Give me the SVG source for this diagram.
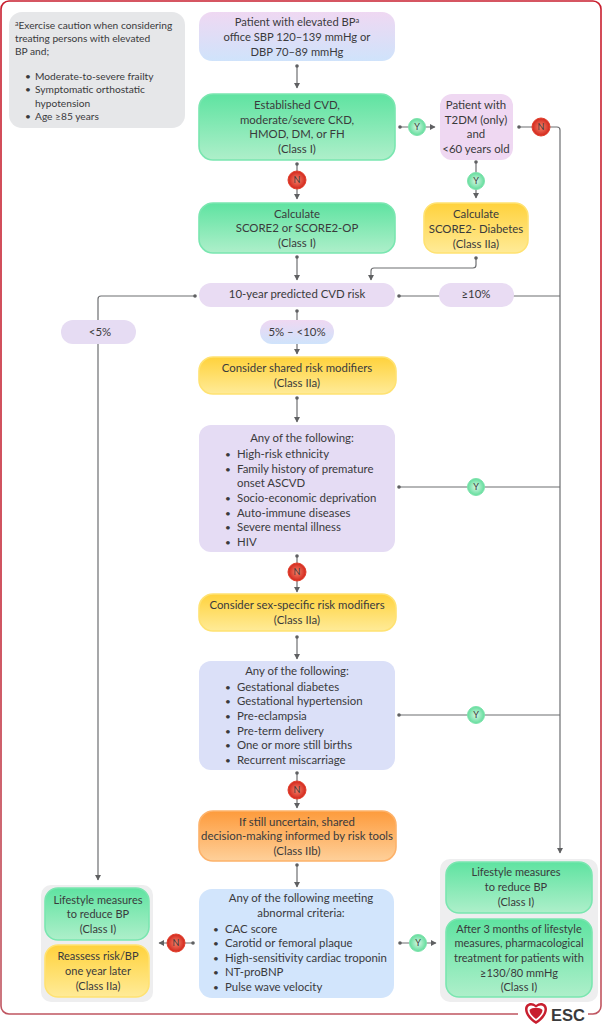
<svg xmlns="http://www.w3.org/2000/svg" width="602" height="1024" viewBox="0 0 602 1024">
<style>
text{font-family:"Lato","Open Sans","Liberation Sans",sans-serif;font-size:11.4px;fill:#3a3a3c;text-anchor:middle}
.l{text-anchor:start}
.u{text-anchor:middle;font-size:10px}
.k{font-size:9px}
.c{fill:none;stroke:#6d6e71;stroke-width:1.2}
.sup{font-size:7.500px}
#note text{font-size:10.200px}
#note .sup{font-size:7px}
#group-left text,#group-right text{font-size:11px}
#n-patient text{font-size:11.200px}
#n-patient .sup{font-size:7.500px}
</style>
<defs>
<marker id="a" markerWidth="7" markerHeight="7" refX="5" refY="3" orient="auto" markerUnits="userSpaceOnUse"><path d="M0,0L5.500,3L0,6z" fill="#5f6062"/></marker>
<marker id="d" markerWidth="5" markerHeight="5" refX="2.500" refY="2.500" markerUnits="userSpaceOnUse"><circle cx="2.500" cy="2.500" r="1.800" fill="#5f6062"/></marker>
<linearGradient id="gp" x1="0" y1="0" x2="0" y2="1"><stop offset="0" stop-color="#efd8f2"/><stop offset="1" stop-color="#cfe3fb"/></linearGradient>
<linearGradient id="gg" x1="0" y1="0" x2="0" y2="1"><stop offset="0" stop-color="#5fe3a1"/><stop offset="1" stop-color="#aeefca"/></linearGradient>
<linearGradient id="gy" x1="0" y1="0" x2="0" y2="1"><stop offset="0" stop-color="#ffd23c"/><stop offset="1" stop-color="#ffeb98"/></linearGradient>
<linearGradient id="go" x1="0" y1="0" x2="0" y2="1"><stop offset="0" stop-color="#fd9b3c"/><stop offset="1" stop-color="#fed09a"/></linearGradient>
<linearGradient id="fr" x1="0" y1="0" x2="0" y2="1"><stop offset="0" stop-color="#c81e2e"/><stop offset="0.6" stop-color="#c42a3a"/><stop offset="1" stop-color="#bf5560"/></linearGradient>
<radialGradient id="rn"><stop offset="0" stop-color="#f5836a"/><stop offset="1" stop-color="#d2261c"/></radialGradient>
<radialGradient id="ry"><stop offset="0" stop-color="#d6f7e4"/><stop offset="1" stop-color="#62dd9c"/></radialGradient>
<symbol id="N" overflow="visible"><circle r="9" fill="url(#rn)" stroke="#e3402c" stroke-width="1"/><text class="k" y="3.200">N</text></symbol>
<symbol id="Y" overflow="visible"><circle r="8.500" fill="url(#ry)" stroke="#7fe3ad" stroke-width="1"/><text class="k" y="3.200">Y</text></symbol>
</defs>
<rect width="602" height="1024" fill="#fff"/>
<rect x="1" y="1" width="600" height="1013" rx="8" fill="none" stroke="url(#fr)" stroke-width="1.600"/>
<rect x="518" y="1005" width="70" height="19" fill="#fff"/>

<g id="connectors">
<path class="c" marker-start="url(#d)" marker-end="url(#a)" d="M297,66V88"/>
<path class="c" marker-start="url(#d)" marker-end="url(#a)" d="M297,164V199"/>
<path class="c" marker-start="url(#d)" marker-end="url(#a)" d="M297,257V280"/>
<path class="c" marker-start="url(#d)" marker-end="url(#a)" d="M400,127H435"/>
<path class="c" marker-start="url(#d)" marker-end="url(#a)" d="M476,162V198"/>
<path class="c" marker-start="url(#d)" marker-end="url(#a)" d="M476,258V265Q476,268 473,268H374Q371,268 371,271V280"/>
<path class="c" marker-start="url(#d)" marker-end="url(#a)" d="M519,127H557Q560,127 560,130V853"/>
<path class="c" marker-start="url(#d)" d="M399,296H560"/>
<path class="c" marker-start="url(#d)" marker-end="url(#a)" d="M195,296H101Q98,296 98,299V880"/>
<path class="c" marker-start="url(#d)" marker-end="url(#a)" d="M297,311V354"/>
<path class="c" marker-start="url(#d)" marker-end="url(#a)" d="M297,398V422"/>
<path class="c" marker-start="url(#d)" d="M399,487H560"/>
<path class="c" marker-start="url(#d)" marker-end="url(#a)" d="M297,556V592"/>
<path class="c" marker-start="url(#d)" marker-end="url(#a)" d="M297,637V659"/>
<path class="c" marker-start="url(#d)" d="M399,715H560"/>
<path class="c" marker-start="url(#d)" marker-end="url(#a)" d="M297,773V808"/>
<path class="c" marker-start="url(#d)" marker-end="url(#a)" d="M297,865V887"/>
<path class="c" marker-start="url(#d)" marker-end="url(#a)" d="M193,943H159"/>
<path class="c" marker-start="url(#d)" marker-end="url(#a)" d="M400,943H436"/>
</g>

<g id="note"><rect x="9" y="12" width="176" height="116" rx="13" fill="#e6e7e9"/>
<text class="l" x="15" y="29"><tspan class="sup" dy="-3">a</tspan><tspan dy="3">Exercise caution when considering</tspan></text><text class="l" x="15" y="42">treating persons with elevated</text><text class="l" x="15" y="55">BP and;</text>
<text class="u" x="28" y="80">•</text><text class="l" x="35" y="80">Moderate-to-severe frailty</text>
<text class="u" x="28" y="93">•</text><text class="l" x="35" y="93">Symptomatic orthostatic</text><text class="l" x="35" y="107">hypotension</text>
<text class="u" x="28" y="120">•</text><text class="l" x="35" y="120">Age ≥85 years</text></g>

<g id="n-patient"><rect x="199" y="12" width="196" height="49" rx="13" fill="url(#gp)"/>
<text x="297" y="26">Patient with elevated BP<tspan class="sup" dy="-3">a</tspan></text><text x="297" y="41">office SBP 120–139 mmHg or</text><text x="297" y="56">DBP 70–89 mmHg</text></g>

<g id="n-cvd"><rect x="199" y="94" width="196" height="66" rx="14" fill="url(#gg)" stroke="#7ae6b0" stroke-width="1.600"/>
<text x="297" y="109">Established CVD,</text><text x="297" y="124">moderate/severe CKD,</text><text x="297" y="138">HMOD, DM, or FH</text><text x="297" y="153">(Class I)</text></g>

<g id="n-score2"><rect x="199" y="203" width="196" height="50" rx="14" fill="url(#gg)" stroke="#7ae6b0" stroke-width="1.600"/>
<text x="297" y="218">Calculate</text><text x="297" y="232">SCORE2 or SCORE2-OP</text><text x="297" y="247">(Class I)</text></g>

<g id="n-t2dm"><rect x="440" y="94" width="73" height="66" rx="12" fill="#efd8f2"/>
<text x="476" y="109">Patient with</text><text x="476" y="124">T2DM (only)</text><text x="476" y="138">and</text><text x="476" y="153">&lt;60 years old</text></g>

<g id="n-diabetes"><rect x="424" y="203" width="104" height="50" rx="13" fill="url(#gy)" stroke="#ffe272" stroke-width="1.600"/>
<text x="476" y="218">Calculate</text><text x="476" y="233">SCORE2- Diabetes</text><text x="476" y="248">(Class IIa)</text></g>

<g id="n-risk"><rect x="199" y="283" width="196" height="24" rx="12" fill="#e9dcf3"/><text x="297" y="298">10-year predicted CVD risk</text></g>
<g id="n-ge10"><rect x="439" y="283" width="75" height="24" rx="12" fill="#e9dcf3"/><text x="476" y="298">≥10%</text></g>
<g id="n-lt5"><rect x="61" y="320" width="75" height="24" rx="12" fill="#e6dcf3"/><text x="100" y="336">&lt;5%</text></g>
<g id="n-5to10"><rect x="260" y="320" width="74" height="24" rx="12" fill="url(#gp)"/><text x="297" y="336">5% – &lt;10%</text></g>

<g id="n-shared"><rect x="199" y="357" width="197" height="37" rx="14" fill="url(#gy)" stroke="#ffe272" stroke-width="1.600"/>
<text x="297" y="372">Consider shared risk modifiers</text><text x="297" y="387">(Class IIa)</text></g>

<g id="n-any1"><rect x="199" y="425" width="196" height="127" rx="12" fill="#e5dcf4"/>
<text x="302" y="442">Any of the following:</text>
<text class="u" x="228" y="458">•</text><text class="l" x="237" y="458">High-risk ethnicity</text>
<text class="u" x="228" y="473">•</text><text class="l" x="237" y="473">Family history of premature</text>
<text class="l" x="237" y="487">onset ASCVD</text>
<text class="u" x="228" y="502">•</text><text class="l" x="237" y="502">Socio-economic deprivation</text>
<text class="u" x="228" y="517">•</text><text class="l" x="237" y="517">Auto-immune diseases</text>
<text class="u" x="228" y="531">•</text><text class="l" x="237" y="531">Severe mental illness</text>
<text class="u" x="228" y="546">•</text><text class="l" x="237" y="546">HIV</text></g>

<g id="n-sex"><rect x="199" y="594" width="197" height="37" rx="14" fill="url(#gy)" stroke="#ffe272" stroke-width="1.600"/>
<text x="297" y="609">Consider sex-specific risk modifiers</text><text x="297" y="624">(Class IIa)</text></g>

<g id="n-any2"><rect x="199" y="661" width="196" height="109" rx="12" fill="#dbe0f8"/>
<text x="297" y="675">Any of the following:</text>
<text class="u" x="228" y="691">•</text><text class="l" x="237" y="691">Gestational diabetes</text>
<text class="u" x="228" y="705">•</text><text class="l" x="237" y="705">Gestational hypertension</text>
<text class="u" x="228" y="720">•</text><text class="l" x="237" y="720">Pre-eclampsia</text>
<text class="u" x="228" y="735">•</text><text class="l" x="237" y="735">Pre-term delivery</text>
<text class="u" x="228" y="749">•</text><text class="l" x="237" y="749">One or more still births</text>
<text class="u" x="228" y="764">•</text><text class="l" x="237" y="764">Recurrent miscarriage</text></g>

<g id="n-uncertain"><rect x="199" y="811" width="197" height="50" rx="14" fill="url(#go)" stroke="#fdb26a" stroke-width="1.600"/>
<text x="297" y="826">If still uncertain, shared</text><text x="297" y="840">decision-making informed by risk tools</text><text x="297" y="855">(Class IIb)</text></g>

<g id="n-any3"><rect x="199" y="889" width="195" height="109" rx="13" fill="#d2e5fc"/>
<text x="301" y="902">Any of the following meeting</text><text x="301" y="917">abnormal criteria:</text>
<text class="u" x="216" y="933">•</text><text class="l" x="225" y="933">CAC score</text>
<text class="u" x="216" y="947">•</text><text class="l" x="225" y="947">Carotid or femoral plaque</text>
<text class="u" x="216" y="962">•</text><text class="l" x="225" y="962">High-sensitivity cardiac troponin</text>
<text class="u" x="216" y="976">•</text><text class="l" x="225" y="976">NT-proBNP</text>
<text class="u" x="216" y="991">•</text><text class="l" x="225" y="991">Pulse wave velocity</text></g>

<g id="group-left"><rect x="41" y="885" width="112" height="117" rx="10" fill="#eeeeef"/>
<rect x="45" y="888" width="104" height="52" rx="13" fill="url(#gg)" stroke="#7ae6b0" stroke-width="1.600"/>
<text x="98" y="904">Lifestyle measures</text><text x="98" y="918">to reduce BP</text><text x="98" y="933">(Class I)</text>
<rect x="45" y="945" width="104" height="52" rx="13" fill="url(#gy)" stroke="#ffe272" stroke-width="1.600"/>
<text x="98" y="960">Reassess risk/BP</text><text x="98" y="975">one year later</text><text x="98" y="990">(Class IIa)</text></g>

<g id="group-right"><rect x="440" y="859" width="158" height="143" rx="10" fill="#eeeeef"/>
<rect x="446" y="862" width="146" height="51" rx="13" fill="url(#gg)" stroke="#7ae6b0" stroke-width="1.600"/>
<text x="516" y="876">Lifestyle measures</text><text x="516" y="891">to reduce BP</text><text x="516" y="906">(Class I)</text>
<rect x="446" y="919" width="146" height="78" rx="13" fill="url(#gg)" stroke="#7ae6b0" stroke-width="1.600"/>
<text x="519" y="933">After 3 months of lifestyle</text><text x="519" y="947">measures, pharmacological</text><text x="519" y="962">treatment for patients with</text><text x="519" y="977">≥130/80 mmHg</text><text x="519" y="991">(Class I)</text></g>

<g id="badges">
<use href="#Y" x="417" y="127"/><use href="#N" x="541" y="127"/><use href="#N" x="297" y="180"/><use href="#Y" x="476" y="181"/>
<use href="#Y" x="476" y="487"/><use href="#N" x="297" y="572"/><use href="#Y" x="476" y="715"/><use href="#N" x="297" y="790"/>
<use href="#N" x="176" y="943"/><use href="#Y" x="418" y="943"/>
</g>

<g id="esc"><path d="M536,1024C529,1020 525,1014 525,1009C525,1003 532,1001 536,1005C540,1001 547,1003 547,1009C547,1014 543,1020 536,1024Z" fill="#c81e2e"/><path d="M536,1021C531,1018 527.500,1013 527.500,1009.500C527.500,1005 532,1004 536,1007.500C540,1004 544.500,1005 544.500,1009.500C544.500,1013 541,1018 536,1021Z" fill="#fff"/><path d="M536,1019C532,1016 529.500,1013 529.500,1010C532,1007 540,1007 542.500,1010C542.500,1013 540,1016 536,1019Z" fill="#c81e2e"/>
<text x="551" y="1021" style="text-anchor:start;font-family:'Liberation Sans',sans-serif;font-size:16.500px;fill:#3a3a3c;font-weight:700">ESC</text></g>
</svg>
